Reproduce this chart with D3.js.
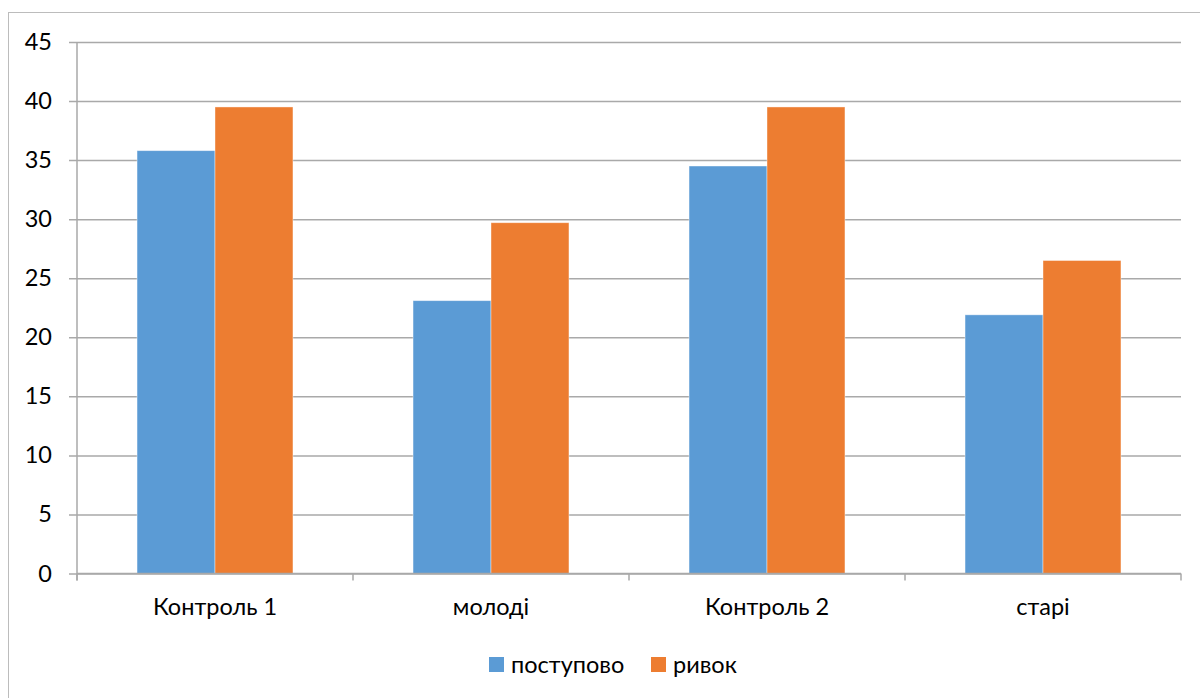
<!DOCTYPE html>
<html>
<head>
<meta charset="utf-8">
<script src="https://cdn.jsdelivr.net/npm/d3@7"></script>
<style>
  html, body { margin: 0; padding: 0; background: #fff; }
  svg { display: block; }
  text { font-family: Lato, "Open Sans", sans-serif; fill: #000; }
</style>
</head>
<body>
<svg id="chart" width="1200" height="698"></svg>
<script>
// Categories and series
const categories = ["Контроль 1", "молоді", "Контроль 2", "старі"];
const seriesNames = ["поступово", "ривок"];
const postupovo = [35.8, 23.1, 34.5, 21.9];
const ryvok = [39.5, 29.7, 39.5, 26.5];
const yTicks = [0, 5, 10, 15, 20, 25, 30, 35, 40, 45];
const colors = ["#5B9BD5", "#ED7D31"];

const seriesValues = [postupovo, ryvok];
const rows = categories.map((c, i) => ({
  category: c,
  values: seriesNames.map((s, j) => ({ series: s, value: seriesValues[j][i] }))
}));

const FONT = 23.5;
const svg = d3.select("#chart");

// Outer chart frame (continues past the right and bottom edges)
svg.append("rect")
  .attr("x", 8.5).attr("y", 12.5)
  .attr("width", 1300).attr("height", 800)
  .attr("fill", "none")
  .attr("stroke", "#bcbcbc")
  .attr("stroke-width", 1);

const plot = { left: 77, right: 1181, top: 42, bottom: 573.5 };

const x0 = d3.scaleBand()
  .domain(categories)
  .range([plot.left, plot.right])
  .padding(0);

const x1 = d3.scaleBand()
  .domain(seriesNames)
  .range([0, x0.bandwidth()])
  .paddingInner(0)
  .paddingOuter(0.77);

const y = d3.scaleLinear()
  .domain([0, 45])
  .range([plot.bottom, plot.top]);

const color = d3.scaleOrdinal().domain(seriesNames).range(colors);

// Horizontal gridlines with short left ticks
const yAxis = d3.axisLeft(y)
  .tickValues(yTicks)
  .tickSize(-(plot.right - plot.left))
  .tickPadding(25)
  .tickFormat(d3.format("d"));

const gy = svg.append("g")
  .attr("transform", `translate(${plot.left},0)`)
  .call(yAxis);
gy.select(".domain").remove();
gy.selectAll(".tick line")
  .attr("x1", -8)
  .attr("stroke", "#a9a9a9")
  .attr("stroke-width", 1.5);
gy.selectAll(".tick text")
  .attr("font-size", FONT)
  .attr("font-family", "Lato, 'Open Sans', sans-serif")
  .attr("fill", "#000");

// Vertical axis line
svg.append("line")
  .attr("x1", plot.left).attr("x2", plot.left)
  .attr("y1", plot.top).attr("y2", plot.bottom + 7)
  .attr("stroke", "#a9a9a9")
  .attr("stroke-width", 1.5);

// Bars
const groups = svg.append("g")
  .selectAll("g")
  .data(rows)
  .join("g")
  .attr("transform", d => `translate(${x0(d.category)},0)`);

groups.selectAll("rect")
  .data(d => d.values)
  .join("rect")
  .attr("x", d => x1(d.series))
  .attr("width", x1.bandwidth())
  .attr("y", d => y(d.value))
  .attr("height", d => y(0) - y(d.value))
  .attr("fill", d => color(d.series))
  .attr("stroke", "#ffffff")
  .attr("stroke-opacity", 0.5)
  .attr("stroke-width", 0.8);

// Category axis
const xAxis = d3.axisBottom(x0).tickSize(0).tickPadding(25);
const gx = svg.append("g")
  .attr("transform", `translate(0,${plot.bottom})`)
  .call(xAxis);
gx.select(".domain")
  .attr("stroke", "#a9a9a9")
  .attr("stroke-width", 1.5)
  .attr("d", `M${plot.left},0H${plot.right}`);
gx.selectAll(".tick text")
  .attr("font-size", FONT)
  .attr("font-family", "Lato, 'Open Sans', sans-serif")
  .attr("fill", "#000");

// Category boundary ticks
const boundaries = categories.map(c => x0(c)).concat([plot.right]);
svg.append("g")
  .selectAll("line")
  .data(boundaries)
  .join("line")
  .attr("x1", d => d).attr("x2", d => d)
  .attr("y1", plot.bottom).attr("y2", plot.bottom + 7)
  .attr("stroke", "#a9a9a9")
  .attr("stroke-width", 1.5);

// Legend
const legendItems = [
  { name: seriesNames[0], sx: 489, tx: 511 },
  { name: seriesNames[1], sx: 651, tx: 673 }
];
const legend = svg.append("g");
legend.selectAll("rect")
  .data(legendItems)
  .join("rect")
  .attr("x", d => d.sx).attr("y", 657)
  .attr("width", 15).attr("height", 15)
  .attr("fill", d => color(d.name));
legend.selectAll("text")
  .data(legendItems)
  .join("text")
  .attr("x", d => d.tx).attr("y", 665)
  .attr("dy", "0.35em")
  .attr("font-size", FONT)
  .text(d => d.name);
</script>
</body>
</html>
